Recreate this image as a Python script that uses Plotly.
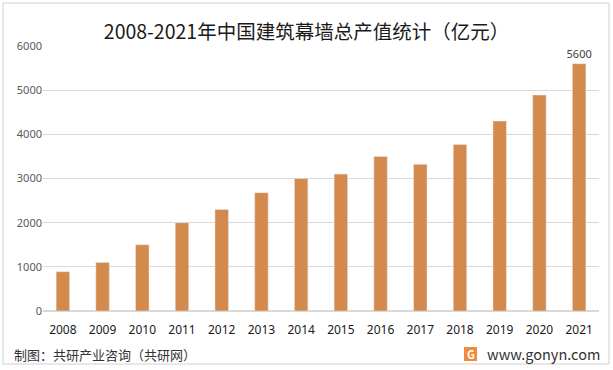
import plotly.graph_objects as go

years = ["2008", "2009", "2010", "2011", "2012", "2013", "2014",
         "2015", "2016", "2017", "2018", "2019", "2020", "2021"]
values = [890, 1100, 1500, 2000, 2300, 2680, 3000,
          3100, 3500, 3320, 3770, 4300, 4890, 5600]
labels = [""] * (len(values) - 1) + [str(values[-1])]

# plot area in pixels: x 43..599, y 46..311
PW, PH = 556, 265
def px(x):
    return (x - 43) / PW
def py(y):
    return (311 - y) / PH

fig = go.Figure()
fig.add_trace(go.Bar(
    x=years, y=values, marker_color="#D48A4C",
    text=labels, textposition="outside", cliponaxis=False, constraintext="none",
    textfont=dict(size=11, color="#404040", family="Noto Sans, sans-serif"),
    hoverinfo="skip",
))

fig.update_layout(
    width=613, height=370,
    margin=dict(l=43, r=14, t=46, b=59, autoexpand=False),
    paper_bgcolor="white", plot_bgcolor="white",
    font=dict(family="Noto Sans CJK SC, Noto Sans, sans-serif", color="#595959"),
    bargap=0.66, showlegend=False,
    title=dict(text="2008-2021年中国建筑幕墙总产值统计（亿元）",
               x=0.5, xanchor="center", y=1 - 32/370, yanchor="middle",
               font=dict(size=19.5, color="#1a1a1a")),
    xaxis=dict(showgrid=False, showline=False, ticks="", automargin=False,
               ticklabelstandoff=10,
               tickfont=dict(size=12, color="#1a1a1a", family="Noto Sans, sans-serif")),
    yaxis=dict(range=[0, 6000], dtick=1000, showgrid=True, gridcolor="#D9D9D9",
               gridwidth=1, zeroline=True, zerolinecolor="#D9D9D9", ticks="",
               automargin=False,
               tickfont=dict(size=11, color="#595959", family="Noto Sans, sans-serif")),
)

fig.add_shape(type="rect", xref="paper", yref="paper",
              x0=px(3), x1=px(609), y0=py(364), y1=py(3),
              line=dict(color="#D0D0D0", width=1))

fig.add_annotation(text="制图：共研产业咨询（共研网）", xref="paper", yref="paper",
                   x=px(12), y=py(354), xanchor="left", yanchor="middle",
                   showarrow=False, font=dict(size=13, color="#333333"))
fig.add_shape(type="rect", xref="paper", yref="paper",
              x0=px(464), x1=px(477), y0=py(361), y1=py(347),
              fillcolor="#F08A3C", line=dict(width=0))
fig.add_annotation(text="<b>G</b>", xref="paper", yref="paper",
                   x=px(470.5), y=py(354), xanchor="center", yanchor="middle",
                   showarrow=False, font=dict(size=11, color="white"))
fig.add_annotation(text="www.gonyn.com", xref="paper", yref="paper",
                   x=px(485), y=py(353), xanchor="left", yanchor="middle",
                   showarrow=False, font=dict(size=14.5, color="#333333"))

fig.write_html("out.html", config={"displayModeBar": False},
               post_script="document.body.style.margin='0';")
